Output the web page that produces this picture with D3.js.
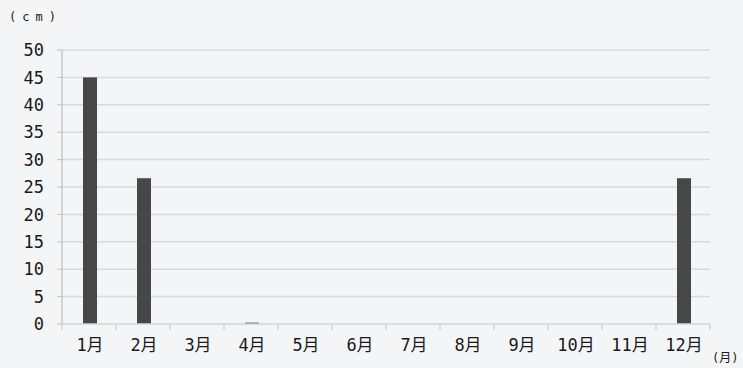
<!DOCTYPE html>
<html><head><meta charset="utf-8">
<script src="https://cdn.jsdelivr.net/npm/d3@7"></script>
<style>
html,body{margin:0;padding:0;background:#f4f5f7;}
svg{display:block;}
text{font-family:"DejaVu Sans Mono","Noto Sans CJK JP",monospace;fill:#1a1a1a;}
</style></head><body>
<svg id="c" width="743" height="368"></svg>
<script>
const categories = ["1月","2月","3月","4月","5月","6月","7月","8月","9月","10月","11月","12月"];
const values = [45, 26.6, 0, 0.25, 0, 0, 0, 0, 0, 0, 0, 26.6];
const yTicks = [0,5,10,15,20,25,30,35,40,45,50];

const svg = d3.select("#c");
const L = 62, R = 710, T = 50, B = 324;
const x = d3.scaleBand().domain(categories).range([L, R]);
const y = d3.scaleLinear().domain([0, 50]).range([B, T]);

// gridlines
svg.append("g").selectAll("line").data(yTicks.filter(d=>d>0)).join("line")
  .attr("x1", L).attr("x2", R).attr("y1", d=>y(d)).attr("y2", d=>y(d))
  .attr("stroke", "#d9d9d9").attr("stroke-width", 1.5);

// y tick marks
svg.append("g").selectAll("line").data(yTicks).join("line")
  .attr("x1", L-5).attr("x2", L).attr("y1", d=>y(d)).attr("y2", d=>y(d))
  .attr("stroke", "#c8c8c8").attr("stroke-width", 1.2);

// y labels
svg.append("g").selectAll("text").data(yTicks).join("text")
  .attr("x", 44).attr("y", d=>y(d)).attr("dy", "0.36em")
  .attr("text-anchor", "end").attr("font-size", 17).text(d=>d);

// bars
const bw = 14;
svg.append("g").selectAll("rect").data(values).join("rect")
  .attr("x", (d,i)=>x(categories[i]) + x.bandwidth()/2 - bw/2 + 1)
  .attr("width", bw)
  .attr("y", d=>y(d)).attr("height", d=>y(0)-y(d))
  .attr("fill", "#474747");

// axes lines
svg.append("line").attr("x1", L).attr("x2", L).attr("y1", T).attr("y2", B)
  .attr("stroke", "#bdbdbd").attr("stroke-width", 1.2);
svg.append("line").attr("x1", L-5).attr("x2", R).attr("y1", B).attr("y2", B)
  .attr("stroke", "#d4d4d4").attr("stroke-width", 1.5);

// x tick marks at band boundaries
const bounds = categories.map(c=>x(c)).concat([R]);
svg.append("g").selectAll("line").data(bounds).join("line")
  .attr("x1", d=>d).attr("x2", d=>d).attr("y1", B).attr("y2", B+6)
  .attr("stroke", "#d4d4d4").attr("stroke-width", 1.5);

// x labels
svg.append("g").selectAll("text").data(categories).join("text")
  .attr("x", d=>x(d)+x.bandwidth()/2 + 1).attr("y", 345).attr("dy","0.36em")
  .attr("text-anchor", "middle").attr("font-size", 17).text(d=>d);

// unit labels
svg.append("text").attr("x", 9).attr("y", 17).attr("dy","0.36em")
  .attr("font-size", 12).attr("letter-spacing", 6).text("(cm)");
svg.append("text").attr("x", 712).attr("y", 358).attr("dy","0.36em")
  .attr("font-size", 12).text("(月)");
</script>
</body></html>
